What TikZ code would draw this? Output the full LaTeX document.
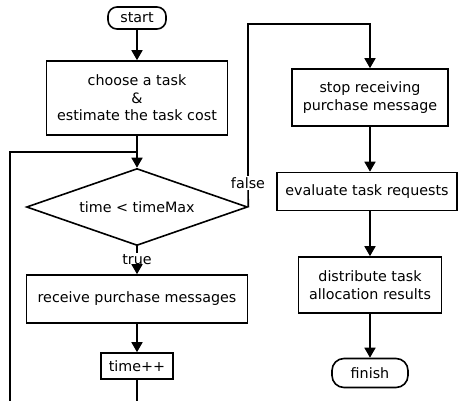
\documentclass[tikz,border=0pt]{standalone}
\usepackage{fontspec}
\setmainfont{DejaVu Sans}
\usetikzlibrary{shapes.geometric,arrows.meta}
\tikzstyle{term} = [draw, line width=1.6pt, rounded corners=9pt, inner sep=0pt]
\tikzset{proc/.style={draw, line width=1.6pt, align=center, inner sep=0pt},
    line/.style={line width=1.6pt},
    arrow/.style={line width=1.6pt, -{Triangle[width=11pt,length=10pt]}}}

\begin{document}
\begin{tikzpicture}[x=1pt, y=-1pt, font=\fontsize{14.3}{17.5}\selectfont]
    \useasboundingbox (0,0) rectangle (459,400);
    \clip (0,0) rectangle (459,400);
    % left column
    \node[term, minimum width=58pt, minimum height=22pt] (start) at (137,18) {start};
    \node[proc, minimum width=181pt, minimum height=74pt] (choose) at (137,98)
        {choose a task\\\&\\estimate the task cost};
    \node[diamond, draw, line width=1.6pt, inner sep=0pt, aspect=2.87,
        minimum width=221pt, minimum height=77pt] (cond) at (137,207) {time < timeMax};
    \node[fill=white, inner sep=1.5pt] (true) at (137,260) {true};
    \node[proc, minimum width=221pt, minimum height=48pt] (recv) at (137,299) {receive purchase messages};
    \node[proc, minimum width=72pt, minimum height=26pt] (inc) at (137,366) {time++};
    % right column
    \node[fill=white, inner sep=1.5pt] (false) at (248,183) {false};
    \node[proc, minimum width=156pt, minimum height=57pt] (stop) at (370,97.5)
        {stop receiving\\purchase message};
    \node[proc, minimum width=180pt, minimum height=38pt] (eval) at (367,191.5) {evaluate task requests};
    \node[proc, minimum width=143pt, minimum height=56pt] (dist) at (370,285)
        {distribute task\\allocation results};
    \node[term, rounded corners=12pt, minimum width=76pt, minimum height=29pt] (finish) at (370,373) {finish};
    % helper points
    \coordinate (merge) at (137,152);
    \coordinate (loopcorner) at (10,420);
    \coordinate (falsetop) at (370,24);
    % connectors
    \draw[arrow] (start) -- (choose);
    \draw[arrow] (choose) -- (cond);
    \draw[line] (cond) -- (true);
    \draw[arrow] (true) -- (recv);
    \draw[arrow] (recv) -- (inc);
    \draw[line] (inc.south) |- (loopcorner) |- (merge);
    \draw[line] (cond.east) -- (false);
    \draw[arrow] (false) |- (falsetop) -- (stop.north);
    \draw[arrow] (stop.south) -- (stop.south |- eval.north);
    \draw[arrow] (stop.south |- eval.south) -- (dist);
    \draw[arrow] (dist) -- (finish);
\end{tikzpicture}
\end{document}
